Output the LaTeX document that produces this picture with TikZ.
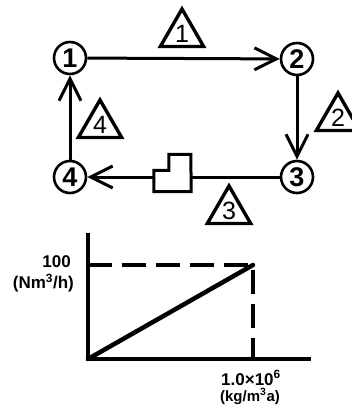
\documentclass[tikz,border=0pt]{standalone}
\usepackage{fontspec}
\setmainfont{Liberation Sans}
\usetikzlibrary{arrows.meta,shapes.geometric}

\begin{document}
\begin{tikzpicture}
[
	x=1pt, y=-1pt,
	station/.style={circle,draw,line width=2.6pt,inner sep=0pt,minimum size=32pt,font=\fontsize{27}{27}\selectfont\bfseries},
	stagetri/.style={regular polygon,regular polygon sides=3,draw,line width=3.4pt,inner sep=0pt,minimum size=50pt,font=\fontsize{25}{25}\selectfont},
	flow/.style={line width=3pt,-{Straight Barb[length=22pt,width=22pt]}},
	pipe/.style={line width=3pt},
	axis/.style={line width=3.2pt},
	guide/.style={line width=3.2pt,dash pattern=on 24pt off 10pt},
	lbl/.style={font=\fontsize{17}{17}\selectfont\bfseries,inner sep=0pt}
]

	\useasboundingbox (0,0) rectangle (352,409);

	% cycle
	\node[station] (n1) at (70,58) {1};
	\node[station] (n2) at (297,59) {2};
	\node[station] (n3) at (297,177) {3};
	\node[station] (n4) at (70,177) {4};

	\node[stagetri] (t1) at (182,34) {1};
	\node[stagetri] (t2) at (338,118) {2};
	\node[stagetri] (t3) at (229,211) {3};
	\node[stagetri] (t4) at (100,125) {4};

	% stepped tank
	\node[minimum width=37pt,minimum height=21pt,inner sep=0pt] (tank) at (172.5,181) {};
	\draw[pipe,line join=miter] (tank.south west) -- (tank.north west) -- ++(15,0) -- ++(0,-16) -- ++(22,0) -- (tank.south east) -- cycle;

	\draw[flow] (n1) -- (n2);
	\draw[flow] (n2) -- (n3);
	\draw[flow] (n4) -- (n1);
	\draw[pipe] (n3) -- (n3 -| tank.east);
	\draw[flow] (n3 -| tank.west) -- (n4);

	% axes
	\coordinate (o) at (88,359);
	\coordinate (top) at (253,265);
	\draw[axis] (88,233) -- (o) -- (311,359);
	\draw[guide] (o |- top) -- (top) -- (top |- o);
	\draw[line width=4.5pt,line cap=round] (o) -- (top);

	\node[lbl,anchor=east] (ymax) at (71,262) {100};
	\node[lbl,anchor=east] (yunit) at (74,283) {(Nm\textsuperscript{3}/h)};
	\node[lbl,anchor=base] (xmax) at (251,385) {1.0×10\textsuperscript{6}};
	\node[lbl,anchor=base,font=\fontsize{15}{15}\selectfont\bfseries] (xunit) at (250,401) {(kg/m\textsuperscript{3}a)};

\end{tikzpicture}
\end{document}
